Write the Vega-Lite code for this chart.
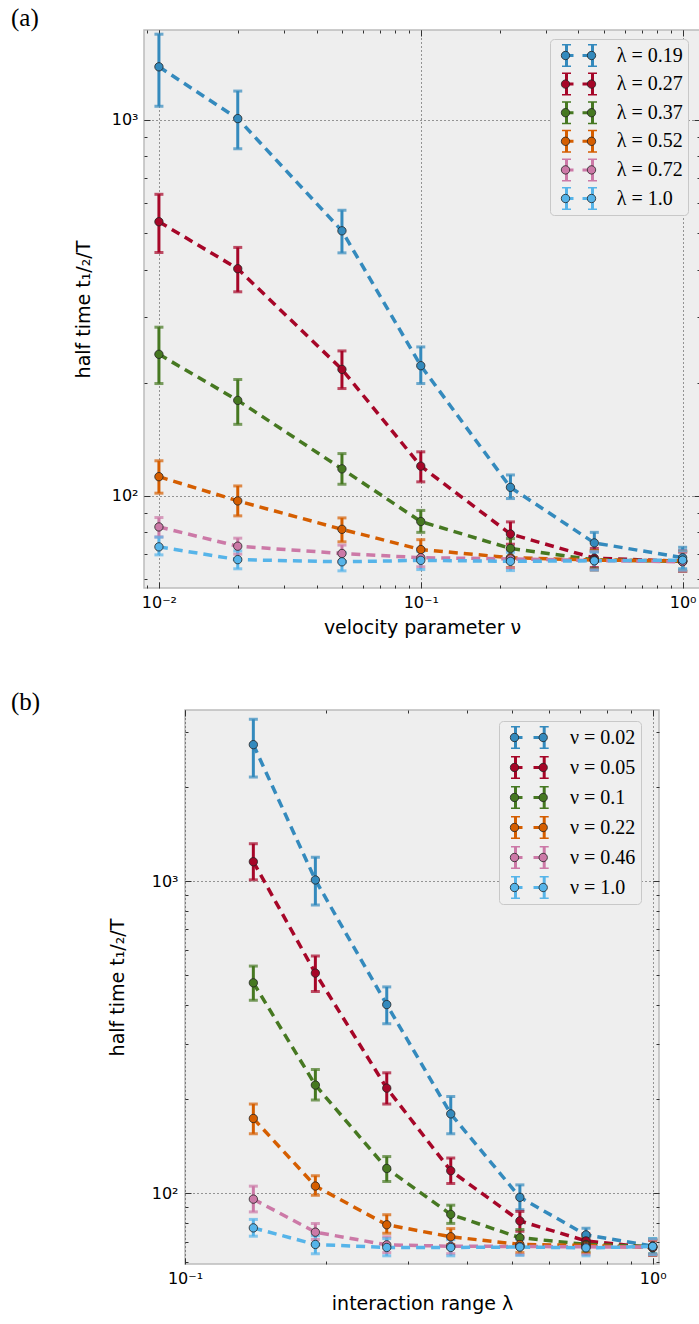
{
  "$schema": "https://vega.github.io/schema/vega-lite/v6.json",
  "background": "white",
  "padding": {"left": 10, "top": 4, "right": 0, "bottom": 0},
  "spacing": 122,
  "bounds": "flush",
  "center": true,
  "datasets": {
    "grid": [
      {"lam":0.14,"nu":0.02,"t":2735,"lo":2154,"hi":3299},
      {"lam":0.14,"nu":0.05,"t":1153,"lo":1009,"hi":1317},
      {"lam":0.14,"nu":0.1,"t":472,"lo":415,"hi":534},
      {"lam":0.14,"nu":0.22,"t":173.5,"lo":155,"hi":193},
      {"lam":0.14,"nu":0.46,"t":95.7,"lo":87.1,"hi":105.3},
      {"lam":0.14,"nu":1.0,"t":77.4,"lo":72.8,"hi":82.4},
      {"lam":0.19,"nu":0.01,"t":1384,"lo":1087,"hi":1690},
      {"lam":0.19,"nu":0.02,"t":1008,"lo":838,"hi":1193},
      {"lam":0.19,"nu":0.05,"t":507,"lo":443,"hi":575},
      {"lam":0.19,"nu":0.1,"t":222,"lo":199,"hi":249},
      {"lam":0.19,"nu":0.22,"t":105.4,"lo":98.4,"hi":113.7},
      {"lam":0.19,"nu":0.46,"t":75,"lo":71,"hi":80},
      {"lam":0.19,"nu":1.0,"t":68.5,"lo":64,"hi":73},
      {"lam":0.27,"nu":0.01,"t":536,"lo":444,"hi":634},
      {"lam":0.27,"nu":0.02,"t":402,"lo":349,"hi":458},
      {"lam":0.27,"nu":0.05,"t":217,"lo":193,"hi":243},
      {"lam":0.27,"nu":0.1,"t":120,"lo":109,"hi":131},
      {"lam":0.27,"nu":0.22,"t":79.2,"lo":74.4,"hi":85.3},
      {"lam":0.27,"nu":0.46,"t":68.3,"lo":64.5,"hi":72.5},
      {"lam":0.27,"nu":1.0,"t":67,"lo":63,"hi":71.5},
      {"lam":0.37,"nu":0.01,"t":238,"lo":199,"hi":281},
      {"lam":0.37,"nu":0.02,"t":179.5,"lo":155,"hi":204},
      {"lam":0.37,"nu":0.05,"t":118,"lo":107.4,"hi":129.6},
      {"lam":0.37,"nu":0.1,"t":85.5,"lo":80,"hi":91.5},
      {"lam":0.37,"nu":0.22,"t":72.5,"lo":68.5,"hi":77},
      {"lam":0.37,"nu":0.46,"t":67.6,"lo":64,"hi":71.5},
      {"lam":0.37,"nu":1.0,"t":67,"lo":63,"hi":71},
      {"lam":0.52,"nu":0.01,"t":112.5,"lo":101.7,"hi":124},
      {"lam":0.52,"nu":0.02,"t":97,"lo":88.5,"hi":106.3},
      {"lam":0.52,"nu":0.05,"t":81.5,"lo":75.5,"hi":87.4},
      {"lam":0.52,"nu":0.1,"t":72,"lo":68,"hi":76.5},
      {"lam":0.52,"nu":0.22,"t":68.5,"lo":64.5,"hi":72.5},
      {"lam":0.52,"nu":0.46,"t":67.5,"lo":63.5,"hi":71.5},
      {"lam":0.52,"nu":1.0,"t":67.2,"lo":63.2,"hi":71.2},
      {"lam":0.72,"nu":0.01,"t":82.7,"lo":77.8,"hi":87.6},
      {"lam":0.72,"nu":0.02,"t":73.5,"lo":70,"hi":77.2},
      {"lam":0.72,"nu":0.05,"t":70.3,"lo":67,"hi":74},
      {"lam":0.72,"nu":0.1,"t":68.5,"lo":64.8,"hi":72.3},
      {"lam":0.72,"nu":0.22,"t":68,"lo":64.3,"hi":71.8},
      {"lam":0.72,"nu":0.46,"t":67.3,"lo":63.6,"hi":71.2},
      {"lam":0.72,"nu":1.0,"t":66.8,"lo":63,"hi":70.7},
      {"lam":1.0,"nu":0.01,"t":73.2,"lo":69.7,"hi":77.7},
      {"lam":1.0,"nu":0.02,"t":67.7,"lo":64,"hi":71.4},
      {"lam":1.0,"nu":0.05,"t":66.8,"lo":63.2,"hi":70.6},
      {"lam":1.0,"nu":0.1,"t":67.4,"lo":63.7,"hi":71.2},
      {"lam":1.0,"nu":0.22,"t":67,"lo":63.3,"hi":70.8},
      {"lam":1.0,"nu":0.46,"t":67.2,"lo":63.5,"hi":71},
      {"lam":1.0,"nu":1.0,"t":67.5,"lo":63.5,"hi":71.5}
    ]
  },
  "config": {
    "view": {"fill": "#eeeeee", "stroke": "#bcbcbc", "strokeWidth": 1.5},
    "axis": {
      "domain": false,
      "labelFont": "DejaVu Sans", "labelFontSize": 16, "labelColor": "#000",
      "titleFont": "DejaVu Sans", "titleFontSize": 19, "titleFontWeight": "normal", "titleColor": "#000",
      "tickColor": "#333", "tickWidth": 1,
      "gridColor": "#222", "gridDash": [1, 3], "gridWidth": 0.9, "gridOpacity": 1,
      "labelFlush": false, "labelOverlap": false
    },
    "legend": {"labelFont": "Liberation Serif", "labelFontSize": 20, "labelColor": "#000", "labelLimit": 300}
  },
  "resolve": {"scale": {"color": "independent", "fill": "independent"}},
  "vconcat": [
    {
      "title": {"text": "(a)", "anchor": "start", "frame": "group", "dx": -133, "offset": -21, "baseline": "alphabetic", "font": "Liberation Serif", "fontSize": 25, "fontWeight": "normal", "color": "#000"},
      "width": 556, "height": 558,
      "data": {"name": "grid"},
      "transform": [{"filter": "datum.lam >= 0.19"}],
      "resolve": {"axis": {"x": "independent", "y": "independent"}},
      "layer": [
        {
          "mark": {"type": "rule", "strokeWidth": 3},
          "encoding": {
            "x": {"field": "nu", "type": "quantitative", "scale": {"type": "log", "domain": [0.00877, 1.165], "nice": false},
                  "axis": {"orient": "bottom", "values": [0.01, 0.1, 1], "grid": true, "tickSize": -6, "labelPadding": 12,
                           "labelExpr": "datum.value < 0.05 ? '10⁻²' : datum.value < 0.5 ? '10⁻¹' : '10⁰'",
                           "title": "velocity parameter ν", "titlePadding": 8}},
            "y": {"field": "lo", "type": "quantitative", "scale": {"type": "log", "domain": [56.9, 1734], "nice": false},
                  "axis": {"orient": "left", "values": [100, 1000], "grid": true, "tickSize": -6, "labelPadding": 12,
                           "labelExpr": "datum.value < 500 ? '10²' : '10³'",
                           "title": "half time t₁/₂/T", "titlePadding": 18}},
            "y2": {"field": "hi"},
            "color": {"field": "lam", "type": "ordinal",
                      "scale": {"range": ["#348ABD", "#A60628", "#467821", "#D55E00", "#CC79A7", "#56B4E9"]},
                      "legend": {"orient": "none", "legendX": 406, "legendY": 9, "title": null, "padding": 5,
                                 "fillColor": "#efefef", "strokeColor": "#c8c8c8", "cornerRadius": 4,
                                 "symbolType": "M-0.45,-1.15L0.45,-1.15M0,-1.15L0,1.15M-0.45,1.15L0.45,1.15M0,0L0.7,0M1.6,0L2.6,0M2.6,-1.15L2.6,1.15M2.15,-1.15L3.05,-1.15M2.15,1.15L3.05,1.15",
                                 "symbolSize": 400, "symbolStrokeWidth": 3, "clipHeight": 23, "rowPadding": 5.6, "labelOffset": 38.7,
                                 "labelExpr": "'λ = ' + (datum.value == 1 ? '1.0' : toString(datum.value))"}}
          }
        },
        {
          "mark": {"type": "tick", "orient": "horizontal", "thickness": 3, "size": 9},
          "encoding": {
            "x": {"field": "nu", "type": "quantitative", "scale": {"type": "log", "domain": [0.00877, 1.165], "nice": false},
                  "axis": {"orient": "bottom", "values": [0.009, 0.02, 0.03, 0.04, 0.05, 0.06, 0.07, 0.08, 0.09, 0.2, 0.3, 0.4, 0.5, 0.6, 0.7, 0.8, 0.9], "grid": false, "tickSize": -3, "labels": false, "title": null}},
            "y": {"field": "lo", "type": "quantitative", "scale": {"type": "log", "domain": [56.9, 1734], "nice": false},
                  "axis": {"orient": "left", "values": [60, 70, 80, 90, 200, 300, 400, 500, 600, 700, 800, 900], "grid": false, "tickSize": -3, "labels": false, "title": null}},
            "color": {"field": "lam", "type": "ordinal", "legend": null}
          }
        },
        {
          "mark": {"type": "tick", "orient": "horizontal", "thickness": 3, "size": 9},
          "encoding": {
            "x": {"field": "nu", "type": "quantitative", "scale": {"type": "log", "domain": [0.00877, 1.165], "nice": false},
                  "axis": {"orient": "top", "values": [0.01, 0.1, 1], "grid": false, "tickSize": -6, "labels": false, "title": null}},
            "y": {"field": "hi", "type": "quantitative", "scale": {"type": "log", "domain": [56.9, 1734], "nice": false},
                  "axis": {"orient": "right", "values": [100, 1000], "grid": false, "tickSize": -6, "labels": false, "title": null}},
            "color": {"field": "lam", "type": "ordinal", "legend": null}
          }
        },
        {
          "mark": {"type": "line", "strokeDash": [9, 6], "strokeWidth": 3.5},
          "encoding": {
            "x": {"field": "nu", "type": "quantitative", "scale": {"type": "log", "domain": [0.00877, 1.165], "nice": false},
                  "axis": {"orient": "top", "values": [0.009, 0.02, 0.03, 0.04, 0.05, 0.06, 0.07, 0.08, 0.09, 0.2, 0.3, 0.4, 0.5, 0.6, 0.7, 0.8, 0.9], "grid": false, "tickSize": -3, "labels": false, "title": null}},
            "y": {"field": "t", "type": "quantitative", "scale": {"type": "log", "domain": [56.9, 1734], "nice": false},
                  "axis": {"orient": "right", "values": [60, 70, 80, 90, 200, 300, 400, 500, 600, 700, 800, 900], "grid": false, "tickSize": -3, "labels": false, "title": null}},
            "color": {"field": "lam", "type": "ordinal", "legend": null}
          }
        },
        {
          "mark": {"type": "point", "shape": "circle", "filled": true, "size": 70, "stroke": "#222", "strokeWidth": 0.8, "opacity": 1},
          "encoding": {
            "x": {"field": "nu", "type": "quantitative", "scale": {"type": "log", "domain": [0.00877, 1.165], "nice": false}, "axis": null},
            "y": {"field": "t", "type": "quantitative", "scale": {"type": "log", "domain": [56.9, 1734], "nice": false}, "axis": null},
            "fill": {"field": "lam", "type": "ordinal",
                     "scale": {"domain": [0.19, 0.27, 0.37, 0.52, 0.72, 1], "range": ["#348ABD", "#A60628", "#467821", "#D55E00", "#CC79A7", "#56B4E9"]},
                     "legend": {"orient": "none", "legendX": 406, "legendY": 9, "title": null, "padding": 5, "zindex": 1,
                                "symbolType": "M-0.42,0A0.42,0.42,0,1,0,0.42,0A0.42,0.42,0,1,0,-0.42,0ZM2.18,0A0.42,0.42,0,1,0,3.02,0A0.42,0.42,0,1,0,2.18,0Z",
                                "symbolSize": 400, "symbolStrokeColor": "#222", "symbolStrokeWidth": 0.8, "clipHeight": 23, "rowPadding": 5.6, "labelOffset": 38.7,
                                "labelOpacity": 0,
                                "labelExpr": "'λ = ' + (datum.value == 1 ? '1.0' : toString(datum.value))"}}
          }
        }
      ]
    },
    {
      "title": {"text": "(b)", "anchor": "start", "frame": "group", "dx": -174, "offset": -25, "baseline": "alphabetic", "font": "Liberation Serif", "fontSize": 25, "fontWeight": "normal", "color": "#000"},
      "width": 474, "height": 554,
      "data": {"name": "grid"},
      "transform": [{"filter": "datum.nu >= 0.02"}],
      "resolve": {"axis": {"x": "independent", "y": "independent"}},
      "layer": [
        {
          "mark": {"type": "rule", "strokeWidth": 3},
          "encoding": {
            "x": {"field": "lam", "type": "quantitative", "scale": {"type": "log", "domain": [0.1, 1.0315], "nice": false},
                  "axis": {"orient": "bottom", "values": [0.1, 1], "grid": true, "tickSize": -6, "labelPadding": 12,
                           "labelExpr": "datum.value < 0.5 ? '10⁻¹' : '10⁰'",
                           "title": "interaction range λ", "titlePadding": 8}},
            "y": {"field": "lo", "type": "quantitative", "scale": {"type": "log", "domain": [59.3, 3532], "nice": false},
                  "axis": {"orient": "left", "values": [100, 1000], "grid": true, "tickSize": -6, "labelPadding": 13,
                           "labelExpr": "datum.value < 500 ? '10²' : '10³'",
                           "title": "half time t₁/₂/T", "titlePadding": 24}},
            "y2": {"field": "hi"},
            "color": {"field": "nu", "type": "ordinal",
                      "scale": {"range": ["#348ABD", "#A60628", "#467821", "#D55E00", "#CC79A7", "#56B4E9"]},
                      "legend": {"orient": "none", "legendX": 314, "legendY": 11, "title": null, "padding": 5,
                                 "fillColor": "#efefef", "strokeColor": "#c8c8c8", "cornerRadius": 4,
                                 "symbolType": "M-0.45,-1.15L0.45,-1.15M0,-1.15L0,1.15M-0.45,1.15L0.45,1.15M0,0L0.7,0M1.8,0L2.87,0M2.87,-1.15L2.87,1.15M2.42,-1.15L3.32,-1.15M2.42,1.15L3.32,1.15",
                                 "symbolSize": 400, "symbolStrokeWidth": 3, "clipHeight": 23, "rowPadding": 7, "labelOffset": 43,
                                 "labelExpr": "'ν = ' + (datum.value == 1 ? '1.0' : toString(datum.value))"}}
          }
        },
        {
          "mark": {"type": "tick", "orient": "horizontal", "thickness": 3, "size": 9},
          "encoding": {
            "x": {"field": "lam", "type": "quantitative", "scale": {"type": "log", "domain": [0.1, 1.0315], "nice": false},
                  "axis": {"orient": "bottom", "values": [0.2, 0.3, 0.4, 0.5, 0.6, 0.7, 0.8, 0.9], "grid": false, "tickSize": -3, "labels": false, "title": null}},
            "y": {"field": "lo", "type": "quantitative", "scale": {"type": "log", "domain": [59.3, 3532], "nice": false},
                  "axis": {"orient": "left", "values": [60, 70, 80, 90, 200, 300, 400, 500, 600, 700, 800, 900, 2000, 3000], "grid": false, "tickSize": -3, "labels": false, "title": null}},
            "color": {"field": "nu", "type": "ordinal", "legend": null}
          }
        },
        {
          "mark": {"type": "tick", "orient": "horizontal", "thickness": 3, "size": 9},
          "encoding": {
            "x": {"field": "lam", "type": "quantitative", "scale": {"type": "log", "domain": [0.1, 1.0315], "nice": false},
                  "axis": {"orient": "top", "values": [0.1, 1], "grid": false, "tickSize": -6, "labels": false, "title": null}},
            "y": {"field": "hi", "type": "quantitative", "scale": {"type": "log", "domain": [59.3, 3532], "nice": false},
                  "axis": {"orient": "right", "values": [100, 1000], "grid": false, "tickSize": -6, "labels": false, "title": null}},
            "color": {"field": "nu", "type": "ordinal", "legend": null}
          }
        },
        {
          "mark": {"type": "line", "strokeDash": [9, 6], "strokeWidth": 3.5},
          "encoding": {
            "x": {"field": "lam", "type": "quantitative", "scale": {"type": "log", "domain": [0.1, 1.0315], "nice": false},
                  "axis": {"orient": "top", "values": [0.2, 0.3, 0.4, 0.5, 0.6, 0.7, 0.8, 0.9], "grid": false, "tickSize": -3, "labels": false, "title": null}},
            "y": {"field": "t", "type": "quantitative", "scale": {"type": "log", "domain": [59.3, 3532], "nice": false},
                  "axis": {"orient": "right", "values": [60, 70, 80, 90, 200, 300, 400, 500, 600, 700, 800, 900, 2000, 3000], "grid": false, "tickSize": -3, "labels": false, "title": null}},
            "color": {"field": "nu", "type": "ordinal", "legend": null}
          }
        },
        {
          "mark": {"type": "point", "shape": "circle", "filled": true, "size": 70, "stroke": "#222", "strokeWidth": 0.8, "opacity": 1},
          "encoding": {
            "x": {"field": "lam", "type": "quantitative", "scale": {"type": "log", "domain": [0.1, 1.0315], "nice": false}, "axis": null},
            "y": {"field": "t", "type": "quantitative", "scale": {"type": "log", "domain": [59.3, 3532], "nice": false}, "axis": null},
            "fill": {"field": "nu", "type": "ordinal",
                     "scale": {"domain": [0.02, 0.05, 0.1, 0.22, 0.46, 1], "range": ["#348ABD", "#A60628", "#467821", "#D55E00", "#CC79A7", "#56B4E9"]},
                     "legend": {"orient": "none", "legendX": 314, "legendY": 11, "title": null, "padding": 5, "zindex": 1,
                                "symbolType": "M-0.42,0A0.42,0.42,0,1,0,0.42,0A0.42,0.42,0,1,0,-0.42,0ZM2.45,0A0.42,0.42,0,1,0,3.29,0A0.42,0.42,0,1,0,2.45,0Z",
                                "symbolSize": 400, "symbolStrokeColor": "#222", "symbolStrokeWidth": 0.8, "clipHeight": 23, "rowPadding": 7, "labelOffset": 43,
                                "labelOpacity": 0,
                                "labelExpr": "'ν = ' + (datum.value == 1 ? '1.0' : toString(datum.value))"}}
          }
        }
      ]
    }
  ]
}
